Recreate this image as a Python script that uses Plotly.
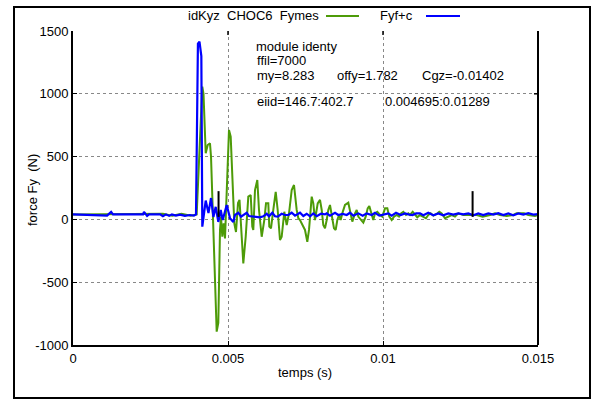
import numpy as np
import plotly.graph_objects as go

# ---------------- data (time in ms, force in N) ----------------
green_t_ms = [0.0, 2.90, 3.20, 3.50, 3.80, 3.968, 3.990, 4.171, 4.210, 4.281, 4.345, 4.419, 4.452,
              4.635, 4.687, 4.742, 4.774, 4.816, 4.861, 4.903, 5.032, 5.087, 5.203, 5.258, 5.323,
              5.371, 5.419, 5.494, 5.571, 5.655, 5.732, 5.784, 5.816, 5.871, 5.945, 6.000, 6.087,
              6.171, 6.226, 6.300, 6.332, 6.387, 6.461, 6.539, 6.603, 6.677, 6.732, 6.816, 6.894,
              6.968, 7.055, 7.129, 7.216, 7.268, 7.323, 7.410, 7.484, 7.558, 7.613, 7.700, 7.752,
              7.806, 7.894, 7.968, 8.023, 8.074, 8.129, 8.184, 8.235, 8.290, 8.365, 8.419, 8.474,
              8.526, 8.581, 8.635, 8.687, 8.774, 8.881, 8.958, 9.010, 9.097, 9.152, 9.203, 9.281,
              9.365, 9.442, 9.506, 9.558, 9.635, 9.687, 9.742, 9.816, 9.903, 9.977, 10.065, 10.139,
              10.203, 10.281, 10.355, 10.442, 10.516, 10.581, 10.655, 10.742, 10.816, 10.871,
              10.958, 11.032, 11.106, 11.194, 11.300, 11.387, 11.461, 11.539, 11.623, 11.732,
              11.816, 11.894, 12.000, 12.106, 12.216, 12.323, 12.429, 12.590, 12.700, 12.861,
              13.023, 13.216, 13.365, 13.452, 13.613, 13.774, 13.990, 14.203, 14.313, 14.548,
              14.687, 14.903, 15.0]
green_f = [40, 45, 30, 45, 30, 40, 40, 1057, 1000, 526, 592, 606, 500,
           -894, -825, -85, 22, -138, -31, -151, 711, 659, -31, -100, 130,
           155, -58, -350, -138, 181, 194, -58, -84, 234, 314, 75, -138,
           -5, 128, 128, -58, -71, 75, 220, 75, -164, -138, 61, -45,
           48, 234, 274, 75, 9, -5, -45, -84, -178, -84, 181, 128,
           -5, 128, 155, 75, -45, -71, -5, 75, 115, 22, -71, -84,
           -5, 35, -5, 48, 115, 133, 48, -18, 48, 75, 22, -5,
           -26, 22, 88, 106, 35, -5, 48, 61, 35, 22, 88, 88,
           22, -5, 22, 35, 22, 48, 61, 35, 48, 35,
           61, 35, 17, 35, 22, 9, 35, 48, 30, 43,
           61, 48, 9, 22, 35, 22, 48, 35, 35, 40,
           35, 22, 27, 35, 48, 35, 27, 35, 48, 48,
           35, 27, 35]

blue_t_ms = [0.0, 1.03, 1.10, 1.23, 1.29, 2.26, 2.29, 2.39, 2.45, 2.81, 2.90, 3.00, 3.10, 3.19,
             3.32, 3.45, 3.61, 3.77, 3.90, 3.968, 4.030, 4.080, 4.110, 4.140, 4.171, 4.281,
             4.370, 4.452, 4.529, 4.603, 4.687, 4.765, 4.829, 4.958, 5.065, 5.171, 5.226, 5.333,
             5.419, 5.516, 5.603, 5.677, 5.765, 5.894, 6.032, 6.139, 6.248, 6.323, 6.429, 6.516,
             6.603, 6.732, 6.839, 6.945, 7.055, 7.161, 7.323, 7.430, 7.539, 7.645, 7.752, 7.861,
             8.000, 8.129, 8.184, 8.290, 8.452, 8.558, 8.700, 8.829, 8.935, 9.042, 9.203, 9.345,
             9.474, 9.635, 9.742, 9.881, 10.010, 10.171, 10.281, 10.419, 10.571, 10.710, 10.816,
             10.950, 11.070, 11.194, 11.300, 11.461, 11.623, 11.784, 11.945, 12.106, 12.268,
             12.429, 12.590, 12.752, 12.913, 13.074, 13.235, 13.397, 13.558, 13.719, 13.881,
             14.042, 14.203, 14.365, 14.526, 14.687, 14.848, 15.0]
blue_f = [40, 35, 30, 60, 40, 40, 60, 27, 40, 40, 25, 40, 28, 40,
          30, 38, 28, 35, 30, 40, 1400, 1415, 1350, 1300, -58, 150,
          50, 170, 20, 100, -20, 75, -5, 115, 10, -20, 35, 53,
          22, 35, 53, 27, 25, 22, 17, 25, 45, 25, 53, 25,
          22, 45, 35, 35, 53, 30, 53, 27, 45, 25, 48, 25,
          45, 40, 48, 30, 53, 35, 43, 35, 53, 30, 48, 30,
          48, 35, 53, 30, 40, 48, 30, 53, 35, 48, 40,
          35, 48, 48, 33, 53, 33, 48, 33, 48, 38,
          48, 40, 48, 33, 48, 35, 48, 38, 50, 35,
          48, 33, 48, 38, 50, 38, 42]

marker_t = [0.004695, 0.01289]
marker_f = [20, 225]

x_ticks = [0, 0.005, 0.01, 0.015]
x_tick_labels = ["0", "0.005", "0.01", "0.015"]
y_ticks = [-1000, -500, 0, 500, 1000, 1500]
y_tick_labels = ["-1000", "-500", "0", "500", "1000", "1500"]

title_text = "idKyz  CHOC6  Fymes"
legend2_text = "Fyf+c"
x_title = "temps (s)"
y_title = "force Fy  (N)"
info_lines = ["module identy", "ffil=7000", "my=8.283", "offy=1.782", "Cgz=-0.01402",
              "eiid=146.7:402.7", "0.004695:0.01289"]

GREEN = "#4d9b08"
BLUE = "#0000ff"
FONT = "Liberation Sans, Arial, sans-serif"
FS = 13

fig = go.Figure()
fig.add_trace(go.Scatter(x=np.array(green_t_ms) / 1000.0, y=green_f, mode="lines",
                         line=dict(color=GREEN, width=2), showlegend=False))
fig.add_trace(go.Scatter(x=np.array(blue_t_ms) / 1000.0, y=blue_f, mode="lines",
                         line=dict(color=BLUE, width=2.2), showlegend=False))
for mt in marker_t:
    fig.add_trace(go.Scatter(x=[mt, mt], y=marker_f, mode="lines",
                             line=dict(color="black", width=2), showlegend=False))

W, H = 596, 403
L, R, T, B = 73, 58, 31, 58
pw, ph = W - L - R, H - T - B


def px(xp):
    return (xp - L) / pw


def py(yp):
    return (H - B - yp) / ph


fig.update_layout(
    width=W, height=H,
    margin=dict(l=L, r=R, t=T, b=B, autoexpand=False),
    paper_bgcolor="white", plot_bgcolor="white",
    font=dict(family=FONT, size=FS, color="black"),
    xaxis=dict(range=[0, 0.015], tickvals=x_ticks, ticktext=x_tick_labels,
               showgrid=True, gridcolor="#888888", griddash="dot", gridwidth=1,
               zeroline=False, showline=True, linecolor="black", linewidth=2,
               ticks="inside", ticklen=4, tickcolor="black",
               tickfont=dict(size=FS)),
    yaxis=dict(range=[-1000, 1500], tickvals=y_ticks, ticktext=y_tick_labels,
               showgrid=True, gridcolor="#888888", griddash="dot", gridwidth=1,
               zeroline=False, showline=True, linecolor="black", linewidth=2,
               ticks="inside", ticklen=4, tickcolor="black",
               tickfont=dict(size=FS)),
)

shapes = [
    dict(type="line", xref="paper", yref="paper", x0=1, x1=1, y0=0, y1=1,
         line=dict(color="black", width=2)),
    dict(type="rect", xref="paper", yref="paper", x0=px(14), x1=px(590), y0=py(398), y1=py(7),
         line=dict(color="black", width=2)),
    dict(type="line", xref="paper", yref="paper", x0=px(326), x1=px(359), y0=py(16), y1=py(16),
         line=dict(color=GREEN, width=2)),
    dict(type="line", xref="paper", yref="paper", x0=px(426), x1=px(460), y0=py(16), y1=py(16),
         line=dict(color=BLUE, width=2)),
]
for xv in [0.005, 0.01]:
    shapes.append(dict(type="line", xref="x", yref="paper", x0=xv, x1=xv, y0=1, y1=1 - 4 / ph,
                       line=dict(color="black", width=1.5)))
shapes.append(dict(type="line", xref="paper", yref="y", x0=1, x1=1 - 4 / pw, y0=1000, y1=1000,
                   line=dict(color="black", width=1.5)))
fig.update_layout(shapes=shapes)

ann = []


def add_text(text, xp, yp, anchor="left", angle=0):
    ann.append(dict(text=text, xref="paper", yref="paper", x=px(xp), y=py(yp),
                    xanchor=anchor, yanchor="middle", showarrow=False, textangle=angle,
                    font=dict(family=FONT, size=FS, color="black")))


add_text(title_text, 321, 15, "right")
add_text(legend2_text, 378, 15)
add_text(info_lines[0], 254, 46)
add_text(info_lines[1], 255, 61)
add_text(info_lines[2], 255, 75)
add_text(info_lines[3], 335, 75)
add_text(info_lines[4], 420, 75)
add_text(info_lines[5], 255, 102)
add_text(info_lines[6], 383, 102)
add_text(x_title, 305, 372, "center")
add_text(y_title, 32, 190, "center", -90)
fig.update_layout(annotations=ann)

fig.write_html("out.html", config={"displayModeBar": False},
               post_script="document.body.style.margin='0';")
